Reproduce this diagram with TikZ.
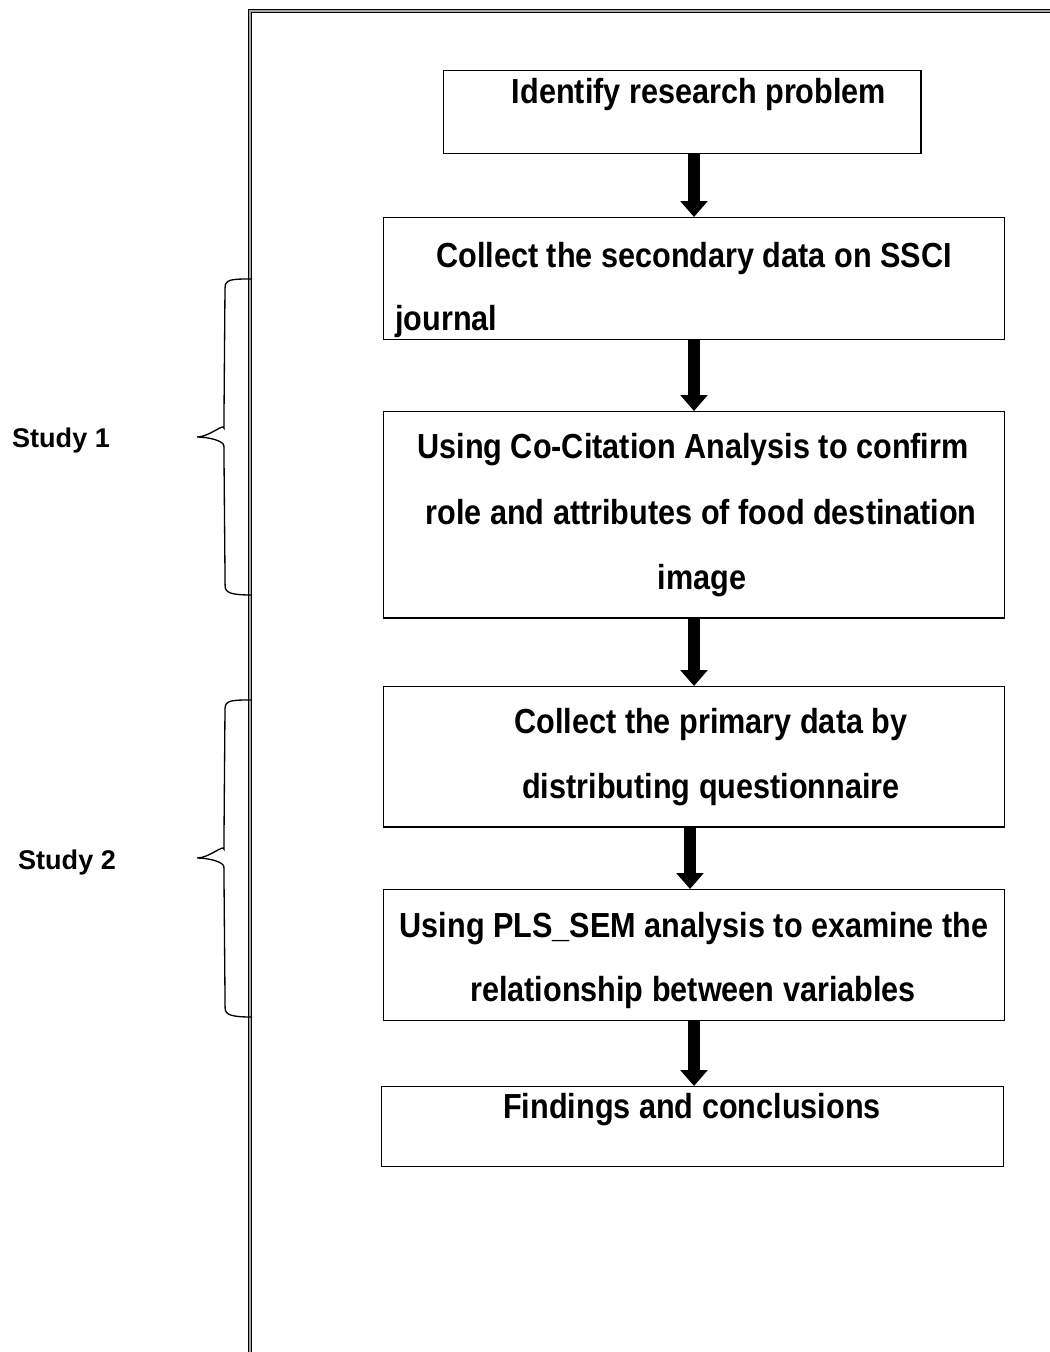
\documentclass[tikz,border=0pt]{standalone}
\usepackage{fontspec}
\setmainfont{Liberation Sans}[FakeStretch=0.88]
\newfontfamily\studyfont{Liberation Sans}
\usetikzlibrary{arrows.meta}

\begin{document}
\begin{tikzpicture}[x=0.02cm, y=-0.02cm,
	stepbox/.style={draw, line width=0.8pt, anchor=north west, inner sep=0pt},
	steptext/.style={anchor=base, inner sep=0pt, font=\bfseries\fontsize{19.8}{24}\selectfont},
	studytext/.style={anchor=base, inner sep=0pt, font=\studyfont\bfseries\fontsize{15.4}{18}\selectfont},
	flowarrow/.style={line width=6.8pt, -{Triangle[width=15pt, length=9pt]}},
	studybrace/.style={draw, line width=0.75pt},
	framebox/.style={draw=black, double=gray!70, line width=0.8pt, double distance=1.1pt}]
	
	\useasboundingbox (0,0) rectangle (1050,1352);
	\clip (0,0) rectangle (1050,1352);
	
	% outer frame
	\draw[framebox] (250,11) rectangle (1080,1380);
	
	% boxes
	\node[stepbox, minimum width=479*0.567pt, minimum height=83*0.567pt] (b1) at (443,70) {};
	\node[stepbox, minimum width=623*0.567pt, minimum height=122*0.567pt] (b2) at (383,217) {};
	\node[stepbox, minimum width=623*0.567pt, minimum height=207*0.567pt] (b3) at (383,411) {};
	\node[stepbox, minimum width=623*0.567pt, minimum height=141*0.567pt] (b4) at (383,686) {};
	\node[stepbox, minimum width=623*0.567pt, minimum height=131*0.567pt] (b5) at (383,889) {};
	\node[stepbox, minimum width=624*0.567pt, minimum height=80*0.567pt] (b6) at (381,1086) {};
	
	% texts
	\node[steptext] (t1) at (699,103) {Identify research problem};
	\node[steptext] (t2a) at (694,267) {Collect the secondary data on SSCI};
	\node[steptext, anchor=base west] (t2b) at (395,330) {journal};
	\node[steptext] (t3a) at (693,458) {Using Co-Citation Analysis to confirm};
	\node[steptext] (t3b) at (701,524) {role and attributes of food destination};
	\node[steptext] (t3c) at (702,589) {image};
	\node[steptext] (t4a) at (711,733) {Collect the primary data by};
	\node[steptext] (t4b) at (711,798) {distributing questionnaire};
	\node[steptext] (t5a) at (694,937) {Using PLS\_SEM analysis to examine the};
	\node[steptext] (t5b) at (693,1001) {relationship between variables};
	\node[steptext] (t6) at (692,1118) {Findings and conclusions};
	
	% arrows
	\draw[flowarrow] (b1.south -| 694,0) -- (b2.north -| 694,0);
	\draw[flowarrow] (b2.south -| 694,0) -- (b3.north -| 694,0);
	\draw[flowarrow] (b3.south -| 694,0) -- (b4.north -| 694,0);
	\draw[flowarrow] (b4.south -| 690,0) -- (b5.north -| 690,0);
	\draw[flowarrow] (b5.south -| 694,0) -- (b6.north -| 694,0);
	
	% studies
	\coordinate (s1top) at (252,279);
	\coordinate (s1tip) at (197,437);
	\coordinate (s1bot) at (252,595);
	\coordinate (s2top) at (252,700);
	\coordinate (s2tip) at (197,858);
	\coordinate (s2bot) at (252,1017);
	\path[studybrace] (s1top) .. controls ++(-20,0) and ++(0,-9) .. ++(-27,9)
		-- ([xshift=27*0.567pt, yshift=9*0.567pt]s1tip) .. controls ++(0,-5) and ++(12,0) .. (s1tip)
		.. controls ++(12,0) and ++(0,-5) .. ([xshift=27*0.567pt, yshift=-9*0.567pt]s1tip)
		-- ([xshift=-27*0.567pt, yshift=9*0.567pt]s1bot) .. controls ++(0,7) and ++(-20,0) .. (s1bot);
	\path[studybrace] (s2top) .. controls ++(-20,0) and ++(0,-9) .. ++(-27,9)
		-- ([xshift=27*0.567pt, yshift=9*0.567pt]s2tip) .. controls ++(0,-5) and ++(12,0) .. (s2tip)
		.. controls ++(12,0) and ++(0,-5) .. ([xshift=27*0.567pt, yshift=-9*0.567pt]s2tip)
		-- ([xshift=-27*0.567pt, yshift=9*0.567pt]s2bot) .. controls ++(0,7) and ++(-20,0) .. (s2bot);
	\node[studytext] (study1) at (61,447) {Study 1};
	\node[studytext] (study2) at (67,869) {Study 2};
	
\end{tikzpicture}
\end{document}
